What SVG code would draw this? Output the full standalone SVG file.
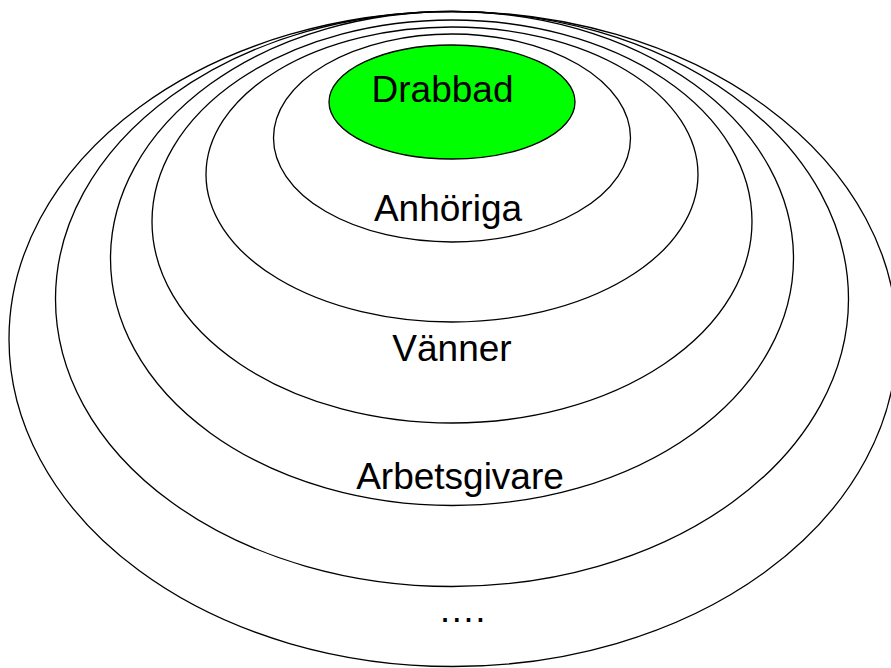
<svg xmlns="http://www.w3.org/2000/svg" width="891" height="668" viewBox="0 0 891 668">
<style>
.ring{fill:none;stroke:#000;stroke-width:1.3}
.core{fill:#00ff00;stroke:#000;stroke-width:1.3}
.lbl{font-family:"Liberation Sans",Arial,sans-serif;font-size:37px;fill:#000;text-anchor:middle}
</style>
<rect width="891" height="668" fill="#fff"/>
<g id="ring6"><ellipse class="ring" cx="453" cy="339" rx="444" ry="327.5"/><text class="lbl" x="462" y="622">….</text></g>
<g id="ring5"><ellipse class="ring" cx="452" cy="299" rx="396.5" ry="287.5"/></g>
<g id="ring4"><ellipse class="ring" cx="452" cy="258.5" rx="341.5" ry="247"/><text class="lbl" x="460" y="489">Arbetsgivare</text></g>
<g id="ring3"><ellipse class="ring" cx="452" cy="221.5" rx="300" ry="201.5"/></g>
<g id="ring2"><ellipse class="ring" cx="452" cy="174.5" rx="246" ry="147.5"/><text class="lbl" x="452" y="361">Vänner</text></g>
<g id="ring1"><ellipse class="ring" cx="452" cy="138" rx="178.5" ry="104"/><text class="lbl" x="448" y="221">Anhöriga</text></g>
<g id="drabbad"><ellipse class="core" cx="452" cy="102" rx="123" ry="57"/><text class="lbl" x="442.5" y="101.5">Drabbad</text></g>
<g id="connectors"/>
</svg>
